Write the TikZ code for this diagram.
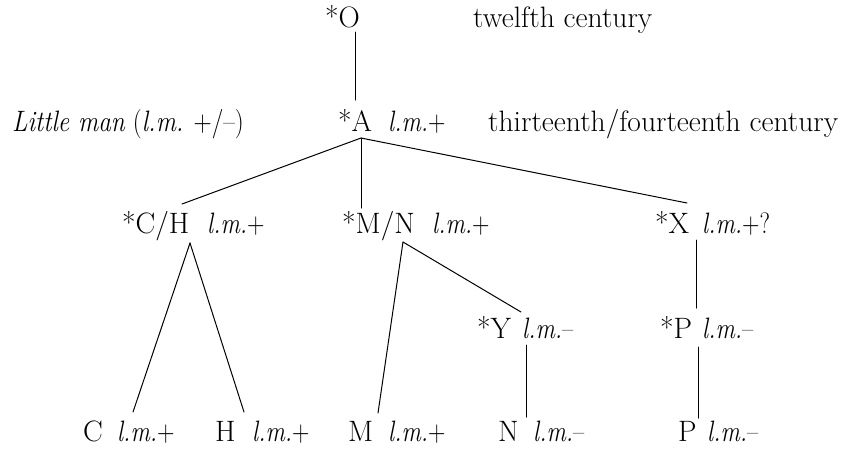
\documentclass[tikz,border=0pt]{standalone}
\tikzset{
  lbl/.style={font=\fontsize{29.5pt}{35pt}\selectfont, inner sep=0pt, anchor=base west},
  edge/.style={line width=1pt, line cap=round}
}
\newcommand{\lmp}{\scalebox{0.82}[1]{\textit{l.m.}+}}
\newcommand{\lmm}{\scalebox{0.82}[1]{\textit{l.m.}--}}
\begin{document}
\begin{tikzpicture}[x=1pt,y=-1pt]
\useasboundingbox (0,0) rectangle (843,448);
% row 1
\node[lbl] (O) at (325,27) {*O};
\node[lbl] (t12) at (473,27) {twelfth century};
% row 2
\node[lbl] (little) at (12,131) {\scalebox{0.855}[1]{\textit{Little man} (\textit{l.m.} +/--)}};
\node[lbl] (A) at (338,131) {*A};
\node[lbl] (Alm) at (388,131) {\lmp};
\node[lbl] (t13) at (488,131) {thirteenth/fourteenth century};
% row 3
\node[lbl] (CH) at (122,233) {*C/H};
\node[lbl] (CHlm) at (207,233) {\lmp};
\node[lbl] (MN) at (342,233) {*M/N};
\node[lbl] (MNlm) at (432,233) {\lmp};
\node[lbl] (X) at (655,233) {*X};
\node[lbl] (Xlm) at (702,233) {\scalebox{0.82}[1]{\textit{l.m.}+?}};
% row 4
\node[lbl] (Y) at (477,338) {*Y};
\node[lbl] (Ylm) at (522,338) {\lmm};
\node[lbl] (Ps) at (660,338) {*P};
\node[lbl] (Pslm) at (702,338) {\lmm};
% row 5
\node[lbl] (C) at (83,441) {C};
\node[lbl] (Clm) at (117,441) {\lmp};
\node[lbl] (H) at (215,441) {H};
\node[lbl] (Hlm) at (252,441) {\lmp};
\node[lbl] (M) at (348,441) {M};
\node[lbl] (Mlm) at (388,441) {\lmp};
\node[lbl] (N) at (498,441) {N};
\node[lbl] (Nlm) at (533,441) {\lmm};
\node[lbl] (P) at (678,441) {P};
\node[lbl] (Plm) at (707,441) {\lmm};
% connector ends
\coordinate (Obot) at (355,32);
\coordinate (Atop) at (355,100);
\coordinate (Abot) at (361,138);
\coordinate (CHtop) at (182,204);
\coordinate (MNtop) at (361,208);
\coordinate (Xtop) at (687,203);
\coordinate (CHbot) at (190,243);
\coordinate (Ctop) at (133,412);
\coordinate (Htop) at (244,412);
\coordinate (MNbot) at (403,242);
\coordinate (Mtop) at (378,413);
\coordinate (Ytop) at (521,312);
\coordinate (Ybot) at (526,345);
\coordinate (Ntop) at (526,417);
\coordinate (Xbot) at (696,240);
\coordinate (Pstop) at (696,308);
\coordinate (Psbot) at (698,347);
\coordinate (Ptop) at (698,418);
% connectors
\draw[edge] (Obot) -- (Atop);
\draw[edge] (Abot) -- (CHtop);
\draw[edge] (Abot) -- (MNtop);
\draw[edge] (Abot) -- (Xtop);
\draw[edge] (CHbot) -- (Ctop);
\draw[edge] (CHbot) -- (Htop);
\draw[edge] (MNbot) -- (Mtop);
\draw[edge] (MNbot) -- (Ytop);
\draw[edge] (Ybot) -- (Ntop);
\draw[edge] (Xbot) -- (Pstop);
\draw[edge] (Psbot) -- (Ptop);
\end{tikzpicture}
\end{document}
